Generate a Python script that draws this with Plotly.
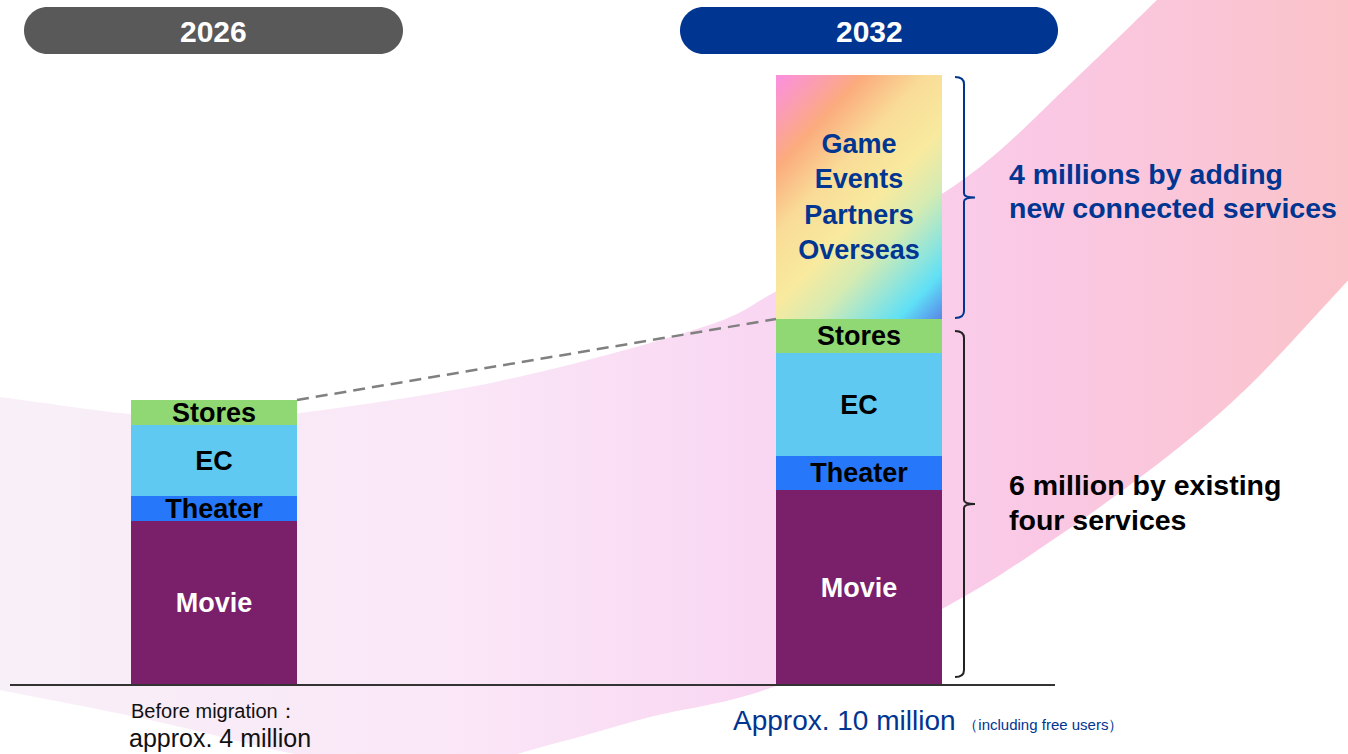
import base64
import plotly.graph_objects as go

# ---------------------------------------------------------------- data
CATEGORIES = ["2026", "2032"]
SEGMENTS = ["Movie", "Theater", "EC", "Stores"]
SEGMENT_COLORS = ["#7a206b", "#2777fa", "#5fc9f1", "#8fd873"]
SEGMENT_TEXT_COLORS = ["#ffffff", "#000000", "#000000", "#000000"]

VALUES_2026 = [2.3, 0.35, 1.0, 0.35]          # million users, sums to ~4
VALUES_2032 = [3.2, 0.55, 1.7, 0.55]          # million users, sums to ~6
NEW_SERVICES_2032 = 4.0                        # million users
NEW_SERVICES_NAMES = ["Game", "Events", "Partners", "Overseas"]

HEADER_2026 = "2026"
HEADER_2032 = "2032"
NOTE_NEW = ["4 millions by adding", "new connected services"]
NOTE_EXISTING = ["6 million by existing", "four services"]
FOOT_2026 = ["Before migration：", "approx. 4 million"]
FOOT_2032_MAIN = "Approx. 10 million"
FOOT_2032_SUB = "（including free users）"

# ---------------------------------------------------------------- layout constants
W, H = 1348, 754
BASE_PX = 685                 # pixel row of the zero line
CENTER_PX = (214, 859)        # pixel centres of the two columns
BAR_PX = 166
PX_PER_M_2026 = 71.25         # each column is drawn on its own scale
PX_PER_M_2032 = 61.0

UNIT = CENTER_PX[1] - CENTER_PX[0]
X_RANGE = [-CENTER_PX[0] / UNIT, (W - CENTER_PX[0]) / UNIT]
BAR_W = BAR_PX / UNIT
Y_RANGE = [-(H - BASE_PX) / PX_PER_M_2026, BASE_PX / PX_PER_M_2026]
Y2_RANGE = [-(H - BASE_PX) / PX_PER_M_2032, BASE_PX / PX_PER_M_2032]

FONT = "Liberation Sans, Arial, Helvetica, sans-serif"
BLUE = "#003591"
GRAY = "#595959"


def x_px(v):
    return W * (v - X_RANGE[0]) / (X_RANGE[1] - X_RANGE[0])


def y_px(v, rng):
    return H * (rng[1] - v) / (rng[1] - rng[0])


def px_to_paper(x, y):
    return x / W, 1 - y / H


def path_from_px(cmds):
    out = []
    for c in cmds:
        if isinstance(c, str):
            out.append(c)
        else:
            px, py = px_to_paper(*c)
            out.append(f"{px:.5f},{py:.5f}")
    return " ".join(out)


def pill_path(x0, y0, x1, y1):
    r = (y1 - y0) / 2
    k = 0.5523 * r
    return path_from_px([
        "M", (x0 + r, y0), "L", (x1 - r, y0),
        "C", (x1 - r + k, y0), (x1, y0 + r - k), (x1, y0 + r),
        "C", (x1, y0 + r + k), (x1 - r + k, y1), (x1 - r, y1),
        "L", (x0 + r, y1),
        "C", (x0 + r - k, y1), (x0, y0 + r + k), (x0, y0 + r),
        "C", (x0, y0 + r - k), (x0 + r - k, y0), (x0 + r, y0), "Z",
    ])


def bracket_path(top, bottom, xs=955, xv=964, xt=975):
    mid = (top + bottom) / 2
    return path_from_px([
        "M", (xs, top), "Q", (xv, top), (xv, top + 7),
        "L", (xv, mid - 4), "Q", (xv, mid), (xt, mid),
        "Q", (xv, mid), (xv, mid + 4),
        "L", (xv, bottom - 7), "Q", (xv, bottom), (xs, bottom),
    ])


def smooth(pts):
    segs = []
    for i in range(len(pts) - 1):
        p0 = pts[i - 1] if i > 0 else pts[i]
        p1, p2 = pts[i], pts[i + 1]
        p3 = pts[i + 2] if i + 2 < len(pts) else pts[i + 1]
        c1 = (p1[0] + (p2[0] - p0[0]) / 6, p1[1] + (p2[1] - p0[1]) / 6)
        c2 = (p2[0] - (p3[0] - p1[0]) / 6, p2[1] - (p3[1] - p1[1]) / 6)
        segs.append(f"C{c1[0]:.1f},{c1[1]:.1f} {c2[0]:.1f},{c2[1]:.1f} {p2[0]:.1f},{p2[1]:.1f}")
    return " ".join(segs)


def svg_uri(svg):
    return "data:image/svg+xml;base64," + base64.b64encode(svg.encode()).decode()


# ---------------------------------------------------------------- background swoosh
upper = [(-20, 395), (0, 397), (130, 414), (220, 418), (300, 413), (500, 381),
         (700, 328), (775, 292), (880, 232), (980, 167), (1070, 84), (1157, 0), (1200, -42)]
lower = [(1390, 235), (1330, 300), (1250, 385), (1173, 452), (1060, 535), (940, 610),
         (773, 687), (650, 717), (560, 742), (470, 762), (330, 760), (150, 720),
         (0, 690), (-20, 686)]
swoosh_d = (f"M{upper[0][0]},{upper[0][1]} " + smooth(upper) +
            f" L1390,-42 L{lower[0][0]},{lower[0][1]} " + smooth(lower) + " Z")
swoosh_svg = (
    f"<svg xmlns='http://www.w3.org/2000/svg' width='{W}' height='{H}' "
    f"viewBox='0 0 {W} {H}' preserveAspectRatio='none'>"
    "<defs><linearGradient id='bg' gradientUnits='userSpaceOnUse' x1='0' y1='0' "
    f"x2='{W}' y2='0'>"
    "<stop offset='0' stop-color='#f8f0f8'/>"
    "<stop offset='0.35' stop-color='#fae6f7'/>"
    "<stop offset='0.57' stop-color='#f9d6f2'/>"
    "<stop offset='0.77' stop-color='#fac8e5'/>"
    "<stop offset='1' stop-color='#fac3c9'/>"
    "</linearGradient></defs>"
    f"<path d='{swoosh_d}' fill='url(#bg)'/></svg>"
)

# rainbow fill for the new-services block
rainbow_svg = (
    "<svg xmlns='http://www.w3.org/2000/svg' width='166' height='230' "
    "viewBox='0 0 166 230' preserveAspectRatio='none'>"
    "<defs><linearGradient id='rb' gradientUnits='userSpaceOnUse' x1='0' y1='0' x2='198' y2='198'>"
    "<stop offset='0' stop-color='#fc8fe0'/>"
    "<stop offset='0.11' stop-color='#fb9db2'/>"
    "<stop offset='0.22' stop-color='#fbab7d'/>"
    "<stop offset='0.38' stop-color='#f9dc97'/>"
    "<stop offset='0.55' stop-color='#f8ea9f'/>"
    "<stop offset='0.68' stop-color='#d5ebb2'/>"
    "<stop offset='0.80' stop-color='#93e5d9'/>"
    "<stop offset='0.89' stop-color='#5fe0f6'/>"
    "<stop offset='0.96' stop-color='#5aa7ee'/>"
    "<stop offset='1' stop-color='#5b86e3'/>"
    "</linearGradient></defs>"
    "<rect width='166' height='230' fill='url(#rb)'/></svg>"
)

# ---------------------------------------------------------------- traces
fig = go.Figure()

for name, v, col, tcol in zip(SEGMENTS, VALUES_2026, SEGMENT_COLORS, SEGMENT_TEXT_COLORS):
    fig.add_trace(go.Bar(
        x=[CATEGORIES[0]], y=[v], name=name, yaxis="y", width=BAR_W,
        marker=dict(color=col, line=dict(width=0)),
        text=[name], textposition="inside", insidetextanchor="middle", textangle=0,
        textfont=dict(family=FONT, size=28, color=tcol, weight="bold"),
        hoverinfo="skip", showlegend=False, cliponaxis=False,
    ))

for name, v, col, tcol in zip(SEGMENTS, VALUES_2032, SEGMENT_COLORS, SEGMENT_TEXT_COLORS):
    fig.add_trace(go.Bar(
        x=[CATEGORIES[1]], y=[v], name=name, yaxis="y2", width=BAR_W,
        marker=dict(color=col, line=dict(width=0)),
        text=[name], textposition="inside", insidetextanchor="middle", textangle=0,
        textfont=dict(family=FONT, size=28, color=tcol, weight="bold"),
        hoverinfo="skip", showlegend=False, cliponaxis=False,
    ))

fig.add_trace(go.Bar(
    x=[CATEGORIES[1]], y=[NEW_SERVICES_2032], name="New services", yaxis="y2", width=BAR_W,
    marker=dict(color="rgba(0,0,0,0)", line=dict(width=0)),
    text=["<br>".join(NEW_SERVICES_NAMES)], textposition="inside",
    insidetextanchor="middle", textangle=0,
    textfont=dict(family=FONT, size=27, color=BLUE, weight="bold"),
    hoverinfo="skip", showlegend=False, cliponaxis=False,
))

total_2026 = sum(VALUES_2026)
existing_2032 = sum(VALUES_2032)
total_2032 = existing_2032 + NEW_SERVICES_2032

# pixel geometry of the 2032 column derived from its scale
top_new = y_px(total_2032, Y2_RANGE)
top_exist = y_px(existing_2032, Y2_RANGE)
base = y_px(0, Y2_RANGE)
left_2032 = x_px(1 - BAR_W / 2)

# ---------------------------------------------------------------- shapes
shapes = []
# header pills
shapes.append(dict(type="path", xref="paper", yref="paper", path=pill_path(24, 7, 403, 54),
                   fillcolor=GRAY, line=dict(width=0)))
shapes.append(dict(type="path", xref="paper", yref="paper", path=pill_path(680, 7, 1058, 54),
                   fillcolor=BLUE, line=dict(width=0)))
# zero line
shapes.append(dict(type="line", xref="paper", yref="y", x0=10 / W, x1=1055 / W, y0=0, y1=0,
                   line=dict(color="#333333", width=2)))
# dashed connector from the 2026 top to the 2032 existing-services top
shapes.append(dict(type="line", xref="x", yref="y",
                   x0=0 + BAR_W / 2, y0=total_2026,
                   x1=1 - BAR_W / 2, y1=(BASE_PX - top_exist) / PX_PER_M_2026,
                   line=dict(color="#808080", width=2.5, dash="12px,7px")))
# braces beside the 2032 column
shapes.append(dict(type="path", xref="paper", yref="paper",
                   path=bracket_path(top_new + 2, top_exist - 1),
                   line=dict(color=BLUE, width=2)))
shapes.append(dict(type="path", xref="paper", yref="paper",
                   path=bracket_path(top_exist + 12, base - 8),
                   line=dict(color="#222222", width=2)))

# ---------------------------------------------------------------- annotations
ann = []


def label(text, x, y, size, color, bold=False, xanchor="center"):
    ann.append(dict(text=text, xref="paper", yref="paper", x=x / W, y=1 - y / H,
                    xanchor=xanchor, yanchor="middle", showarrow=False, align="left",
                    font=dict(family=FONT, size=size, color=color,
                              weight="bold" if bold else "normal")))


label(HEADER_2026, 213.5, 31, 30, "white", bold=True)
label(HEADER_2032, 869, 31, 30, "white", bold=True)

mid_new = (top_new + top_exist) / 2
mid_exist = (top_exist + base) / 2
for i, line in enumerate(NOTE_NEW):
    label(line, 1007, mid_new - 23 + 34 * i, 28.5, BLUE, bold=True, xanchor="left")
for i, line in enumerate(NOTE_EXISTING):
    label(line, 1007, mid_exist - 17.5 + 35 * i, 28.5, "#000000", bold=True, xanchor="left")

label(FOOT_2026[0], 214, 711, 20, "#111111")
label(FOOT_2026[1], 220, 738, 25, "#111111")
label(f"{FOOT_2032_MAIN} <span style='font-size:15px'>{FOOT_2032_SUB}</span>",
      928, 720, 28, BLUE)

# ---------------------------------------------------------------- images
images = [
    dict(source=svg_uri(swoosh_svg), xref="paper", yref="paper", x=0, y=1,
         sizex=1, sizey=1, xanchor="left", yanchor="top", sizing="stretch", layer="below"),
    dict(source=svg_uri(rainbow_svg), xref="paper", yref="paper",
         x=left_2032 / W, y=1 - top_new / H,
         sizex=BAR_PX / W, sizey=(top_exist - top_new) / H,
         xanchor="left", yanchor="top", sizing="stretch", layer="below"),
]

fig.update_layout(
    width=W, height=H, margin=dict(l=0, r=0, t=0, b=0),
    paper_bgcolor="white", plot_bgcolor="rgba(0,0,0,0)",
    barmode="stack", bargap=0,
    uniformtext=dict(minsize=27, mode="show"),
    xaxis=dict(range=X_RANGE, visible=False, fixedrange=True, type="category",
               categoryorder="array", categoryarray=CATEGORIES),
    yaxis=dict(range=Y_RANGE, visible=False, fixedrange=True),
    yaxis2=dict(range=Y2_RANGE, visible=False, fixedrange=True, overlaying="y"),
    shapes=shapes, annotations=ann, images=images,
    font=dict(family=FONT),
)

fig.write_html("out.html", config={"displayModeBar": False})
